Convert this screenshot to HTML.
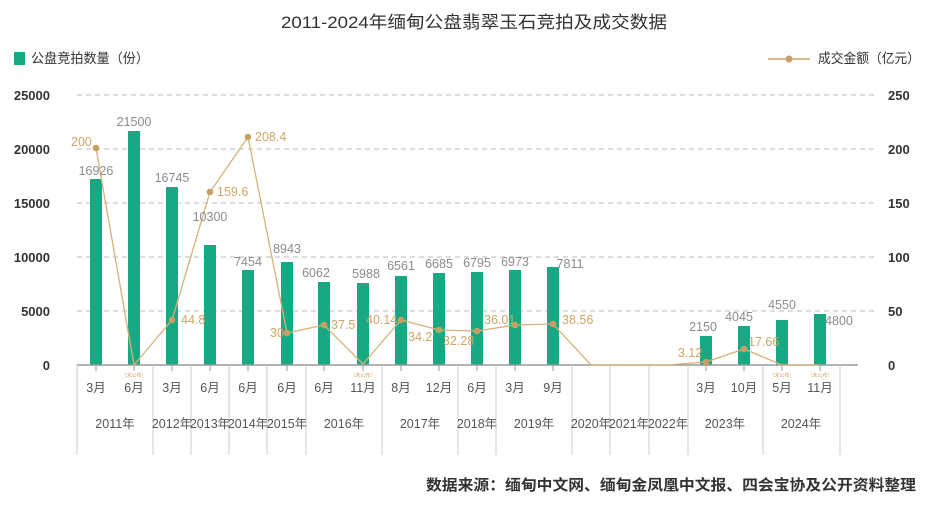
<!DOCTYPE html>
<html><head><meta charset="utf-8"><style>
html,body{margin:0;padding:0;background:#fff;}
svg{display:block;font-family:"Liberation Sans","Noto Sans CJK SC",sans-serif;}
.yl{font-size:13px;font-weight:bold;fill:#333;}
.bv{font-size:12.5px;fill:#8c8c8c;}
.lv{font-size:12.5px;fill:#d0a665;}
.mx{font-size:12.5px;fill:#555;text-anchor:middle;}
.yr{font-size:12.5px;fill:#555;text-anchor:middle;}
.np{font-size:5px;fill:#d0a665;text-anchor:middle;}
</style></head><body>
<svg width="951" height="516" viewBox="0 0 951 516">
<text x="474" y="28" text-anchor="middle" font-size="17" fill="#333" textLength="386" lengthAdjust="spacingAndGlyphs">2011-2024年缅甸公盘翡翠玉石竞拍及成交数据</text>
<rect x="14" y="52" width="11" height="13" fill="#16a984"/>
<text x="31" y="63" font-size="13.5" fill="#333" textLength="118" lengthAdjust="spacingAndGlyphs">公盘竞拍数量（份）</text>
<line x1="768" y1="59" x2="810" y2="59" stroke="#d0a665" stroke-width="1.5"/>
<circle cx="789" cy="59" r="3.5" fill="#c9a063"/>
<text x="818" y="63" font-size="13.5" fill="#333" textLength="102" lengthAdjust="spacingAndGlyphs">成交金额（亿元）</text>
<g stroke="#bbb" stroke-dasharray="5,4" stroke-width="1">
<line x1="77" y1="95" x2="877" y2="95"/><line x1="77" y1="149" x2="877" y2="149"/><line x1="77" y1="203" x2="877" y2="203"/><line x1="77" y1="257" x2="877" y2="257"/><line x1="77" y1="311" x2="877" y2="311"/>
</g>
<g class="yl" text-anchor="end">
<text x="50" y="100">25000</text><text x="50" y="154">20000</text><text x="50" y="208">15000</text><text x="50" y="262">10000</text><text x="50" y="316">5000</text><text x="50" y="370">0</text>
</g>
<g class="yl">
<text x="888" y="100">250</text><text x="888" y="154">200</text><text x="888" y="208">150</text><text x="888" y="262">100</text><text x="888" y="316">50</text><text x="888" y="370">0</text>
</g>
<g fill="#16a984">
<rect x="90" y="179" width="12" height="186"/><rect x="128" y="131" width="12" height="234"/><rect x="166" y="187" width="12" height="178"/><rect x="204" y="245" width="12" height="120"/><rect x="242" y="270" width="12" height="95"/><rect x="281" y="262" width="12" height="103"/><rect x="318" y="282" width="12" height="83"/><rect x="357" y="283" width="12" height="82"/><rect x="395" y="276" width="12" height="89"/><rect x="433" y="273" width="12" height="92"/><rect x="471" y="272" width="12" height="93"/><rect x="509" y="270" width="12" height="95"/><rect x="547" y="267" width="12" height="98"/><rect x="700" y="336" width="12" height="29"/><rect x="738" y="326" width="12" height="39"/><rect x="776" y="320" width="12" height="45"/><rect x="814" y="314" width="12" height="51"/>
</g>
<line x1="77" y1="365" x2="858" y2="365" stroke="#999" stroke-width="1.5"/>
<g stroke="#999" stroke-width="1">
<line x1="96" y1="365" x2="96" y2="371"/><line x1="134" y1="365" x2="134" y2="371"/><line x1="172" y1="365" x2="172" y2="371"/><line x1="210" y1="365" x2="210" y2="371"/><line x1="248" y1="365" x2="248" y2="371"/><line x1="287" y1="365" x2="287" y2="371"/><line x1="324" y1="365" x2="324" y2="371"/><line x1="363" y1="365" x2="363" y2="371"/><line x1="401" y1="365" x2="401" y2="371"/><line x1="439" y1="365" x2="439" y2="371"/><line x1="477" y1="365" x2="477" y2="371"/><line x1="515" y1="365" x2="515" y2="371"/><line x1="553" y1="365" x2="553" y2="371"/><line x1="706" y1="365" x2="706" y2="371"/><line x1="744" y1="365" x2="744" y2="371"/><line x1="782" y1="365" x2="782" y2="371"/><line x1="820" y1="365" x2="820" y2="371"/>
</g>
<g stroke="#ccc" stroke-width="1">
<line x1="77" y1="365" x2="77" y2="455"/><line x1="153" y1="365" x2="153" y2="455"/><line x1="191" y1="365" x2="191" y2="455"/><line x1="229" y1="365" x2="229" y2="455"/><line x1="267" y1="365" x2="267" y2="455"/><line x1="306" y1="365" x2="306" y2="455"/><line x1="382" y1="365" x2="382" y2="455"/><line x1="458" y1="365" x2="458" y2="455"/><line x1="496" y1="365" x2="496" y2="455"/><line x1="572" y1="365" x2="572" y2="455"/><line x1="610" y1="365" x2="610" y2="455"/><line x1="649" y1="365" x2="649" y2="455"/><line x1="688" y1="365" x2="688" y2="455"/><line x1="763" y1="365" x2="763" y2="455"/><line x1="840" y1="365" x2="840" y2="455"/>
</g>
<g class="mx">
<text x="96" y="392">3月</text><text x="134" y="392">6月</text><text x="172" y="392">3月</text><text x="210" y="392">6月</text><text x="248" y="392">6月</text><text x="287" y="392">6月</text><text x="324" y="392">6月</text><text x="363" y="392">11月</text><text x="401" y="392">8月</text><text x="439" y="392">12月</text><text x="477" y="392">6月</text><text x="515" y="392">3月</text><text x="553" y="392">9月</text><text x="706" y="392">3月</text><text x="744" y="392">10月</text><text x="782" y="392">5月</text><text x="820" y="392">11月</text>
</g>
<g class="np"><text x="134" y="377">（未公布）</text><text x="363" y="377">（未公布）</text><text x="782" y="377">（未公布）</text><text x="820" y="377">（未公布）</text></g>
<g class="yr">
<text x="115" y="428">2011年</text><text x="172" y="428">2012年</text><text x="210" y="428">2013年</text><text x="248" y="428">2014年</text><text x="287" y="428">2015年</text><text x="344" y="428">2016年</text><text x="420" y="428">2017年</text><text x="477" y="428">2018年</text><text x="534" y="428">2019年</text><text x="591" y="428">2020年</text><text x="629" y="428">2021年</text><text x="668" y="428">2022年</text><text x="725" y="428">2023年</text><text x="801" y="428">2024年</text>
</g>
<polyline fill="none" stroke="#d6b27c" stroke-width="1.3" points="96,148 134,365 172,320 210,192 248,137 287,333 324,325 363,364 401,320 439,330 477,331 515,325 553,324 591,365 629,365 667,365 706,362 744,349 782,365 820,365"/>
<g fill="#c9a063">
<circle cx="96" cy="148" r="3.3"/><circle cx="172" cy="320" r="3.3"/><circle cx="210" cy="192" r="3.3"/><circle cx="248" cy="137" r="3.3"/><circle cx="287" cy="333" r="3.3"/><circle cx="324" cy="325" r="3.3"/><circle cx="401" cy="320" r="3.3"/><circle cx="439" cy="330" r="3.3"/><circle cx="477" cy="331" r="3.3"/><circle cx="515" cy="325" r="3.3"/><circle cx="553" cy="324" r="3.3"/><circle cx="706" cy="362" r="3.3"/><circle cx="744" cy="349" r="3.3"/>
</g>
<g class="bv" text-anchor="middle">
<text x="96" y="175">16926</text><text x="134" y="126">21500</text><text x="172" y="182">16745</text><text x="210" y="221">10300</text><text x="248" y="266">7454</text><text x="287" y="253">8943</text><text x="316" y="277">6062</text><text x="366" y="278">5988</text><text x="401" y="270">6561</text><text x="439" y="268">6685</text><text x="477" y="267">6795</text><text x="515" y="266">6973</text><text x="570" y="268">7811</text><text x="703" y="331">2150</text><text x="739" y="321">4045</text><text x="782" y="309">4550</text><text x="839" y="325">4800</text>
</g>
<g class="lv">
<text x="71" y="146">200</text><text x="181" y="324">44.8</text><text x="217" y="196">159.6</text><text x="255" y="141">208.4</text><text x="270" y="337">30</text><text x="331" y="329">37.5</text><text x="366" y="324">40.14</text><text x="408" y="341">34.2</text><text x="443" y="345">32.28</text><text x="484" y="324">36.01</text><text x="562" y="324">38.56</text><text x="678" y="357">3.12</text><text x="748" y="346">17.66</text>
</g>
<text x="426" y="490" font-size="15" font-weight="bold" fill="#333" textLength="490" lengthAdjust="spacingAndGlyphs">数据来源：缅甸中文网、缅甸金凤凰中文报、四会宝协及公开资料整理</text>
</svg>
</body></html>
